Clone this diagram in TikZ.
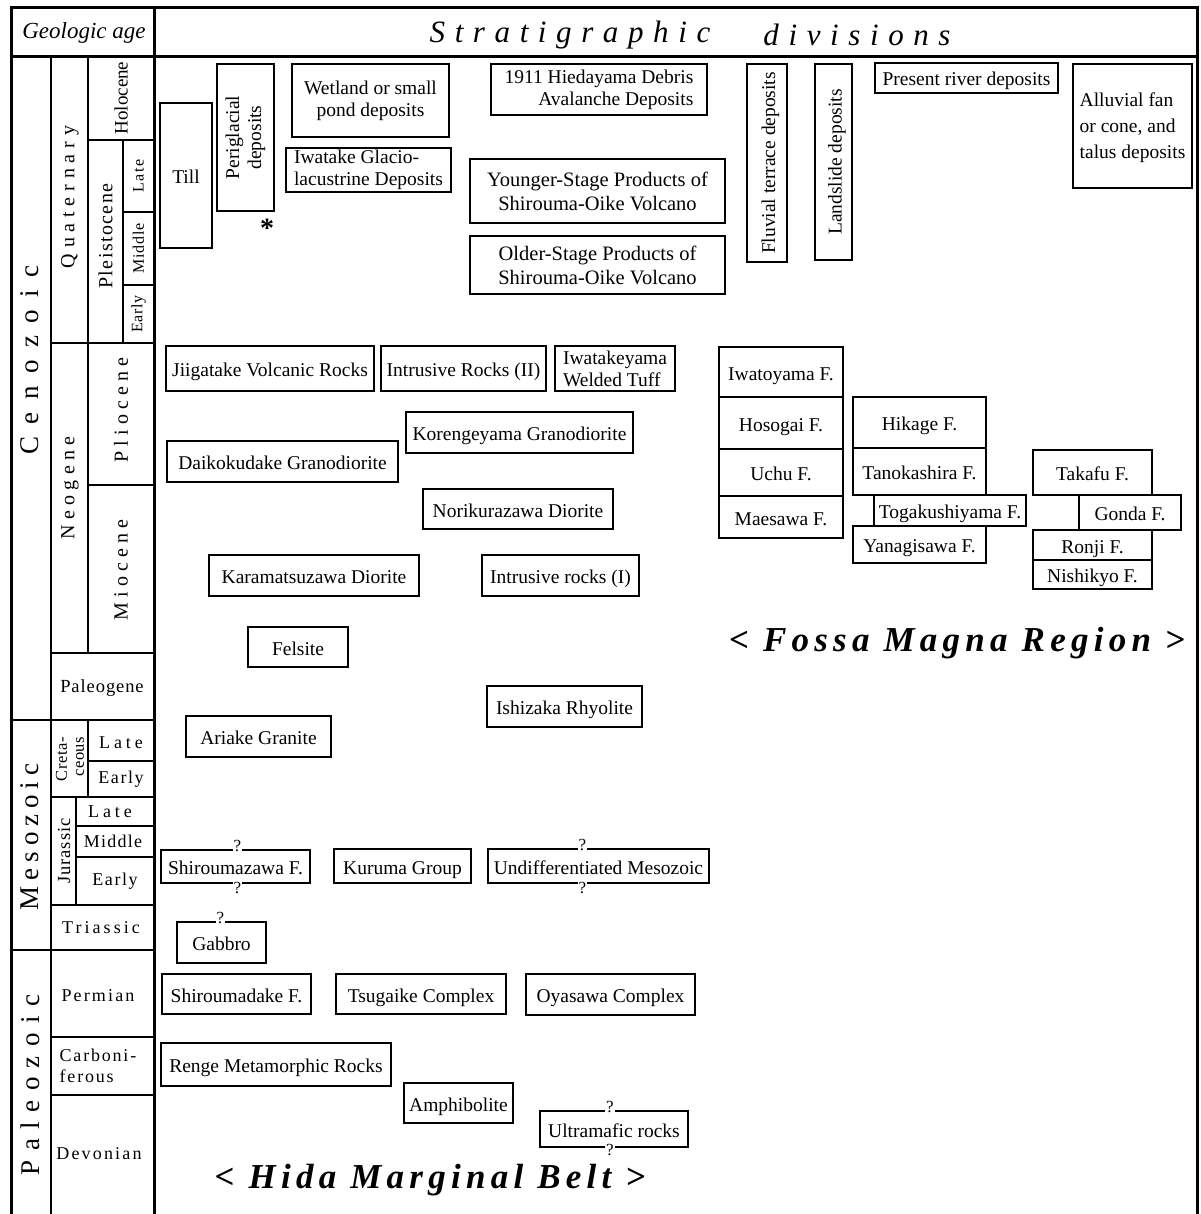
\documentclass[tikz,border=0pt]{standalone}
\usepackage{fontspec}
\setmainfont{Liberation Serif}
% box given by its corners: [options]{name}{x1}{y1}{x2}{y2}{text}
\newcommand\stratbox[7][]{%
  \pgfmathsetmacro\sbcx{(#3+#5)/2}%
  \pgfmathsetmacro\sbcy{(#4+#6)/2}%
  \pgfmathsetmacro\sbw{#5-#3}%
  \pgfmathsetmacro\sbh{#6-#4}%
  \node[unit, one, minimum width=\sbw pt, minimum height=\sbh pt, #1] (#2) at (\sbcx,\sbcy) {#7};}
% same, with the text turned to read upwards
\newcommand\stratvbox[7][]{%
  \pgfmathsetmacro\sbcx{(#3+#5)/2}%
  \pgfmathsetmacro\sbcy{(#4+#6)/2}%
  \pgfmathsetmacro\sbw{#5-#3}%
  \pgfmathsetmacro\sbh{#6-#4}%
  \node[unit, one, rotate=90, minimum width=\sbh pt, minimum height=\sbw pt, #1] (#2) at (\sbcx,\sbcy) {#7};}
\begin{document}
\begin{tikzpicture}[x=1pt,y=-1pt,
  frame/.style={line width=3pt},
  rule/.style={line width=2pt},
  unit/.style={draw, line width=1.8pt, inner sep=2pt, align=center,
    font=\fontsize{19.5}{22}\selectfont},
  one/.style={text height=16pt, text depth=0pt},
  multi/.style={text height=, text depth=},
  qmark/.style={fill=white, inner sep=0.8pt, font=\fontsize{17}{17}\selectfont},
  era/.style={rotate=90, inner sep=0pt},
  lab/.style={inner sep=0pt, align=center},
  title/.style={inner sep=0pt, font=\fontsize{35}{38}\selectfont\bfseries\itshape\addfontfeature{LetterSpace=15}}]
\useasboundingbox (0,0) rectangle (1200,1214);

% ---------- table frame ----------
\draw[frame] (11,1214) -- (11,8) -- (1197,8) -- (1197,1214);
\draw[frame] (11,57) -- (1197,57);
\draw[frame] (154,8) -- (154,1214);

% ---------- geologic age column ----------
\draw[rule] (51,57) -- (51,1214);
\draw[rule] (11,720) -- (154,720);
\draw[rule] (11,950) -- (154,950);
% Cenozoic
\draw[rule] (88,57) -- (88,653);
\draw[rule] (88,140) -- (154,140);
\draw[rule] (123,140) -- (123,343);
\draw[rule] (123,212) -- (154,212);
\draw[rule] (123,285) -- (154,285);
\draw[rule] (51,343) -- (154,343);
\draw[rule] (88,485) -- (154,485);
\draw[rule] (51,653) -- (154,653);
% Mesozoic
\draw[rule] (88,720) -- (88,797);
\draw[rule] (88,761) -- (154,761);
\draw[rule] (51,797) -- (154,797);
\draw[rule] (76,797) -- (76,905);
\draw[rule] (76,826) -- (154,826);
\draw[rule] (76,857) -- (154,857);
\draw[rule] (51,905) -- (154,905);
% Paleozoic
\draw[rule] (51,1037) -- (154,1037);
\draw[rule] (51,1095) -- (154,1095);

% ---------- header ----------
\node[inner sep=0pt, font=\fontsize{23}{25}\selectfont\itshape] (hage) at (84,33) {Geologic age};
\node[inner sep=0pt, font=\fontsize{31}{33}\selectfont\itshape\addfontfeature{LetterSpace=31}] (hstrat) at (570,35) {Stratigraphic};
\node[inner sep=0pt, font=\fontsize{31}{33}\selectfont\itshape\addfontfeature{LetterSpace=31}] (hdiv) at (857,35) {divisions};

% ---------- age labels ----------
\node[era, font=\fontsize{27}{29}\selectfont\addfontfeature{LetterSpace=46}] (ceno) at (30,360) {Cenozoic};
\node[era, font=\fontsize{27}{29}\selectfont\addfontfeature{LetterSpace=22}] (meso) at (30,837) {Mesozoic};
\node[era, font=\fontsize{27}{29}\selectfont\addfontfeature{LetterSpace=35}] (paleo) at (30,1085) {Paleozoic};

\node[era, font=\fontsize{20}{22}\selectfont\addfontfeature{LetterSpace=29}] (quat) at (70,197) {Quaternary};
\node[era, font=\fontsize{20}{22}\selectfont\addfontfeature{LetterSpace=27}] (neog) at (70,488) {Neogene};
\node[era, font=\fontsize{19}{21}\selectfont] (holo) at (121,98) {Holocene};
\node[era, font=\fontsize{20}{22}\selectfont\addfontfeature{LetterSpace=7}] (pleis) at (105.5,236) {Pleistocene};
\node[era, font=\fontsize{16}{18}\selectfont\addfontfeature{LetterSpace=10}] (qlate) at (138.5,176) {Late};
\node[era, font=\fontsize{16}{18}\selectfont\addfontfeature{LetterSpace=5}] (qmid) at (138.5,248.5) {Middle};
\node[era, font=\fontsize{16}{18}\selectfont\addfontfeature{LetterSpace=5}] (qearly) at (138.5,314) {Early};
\node[era, font=\fontsize{20}{22}\selectfont\addfontfeature{LetterSpace=26}] (plio) at (121,410) {Pliocene};
\node[era, font=\fontsize{20}{22}\selectfont\addfontfeature{LetterSpace=26}] (mio) at (121,570) {Miocene};
\node[lab, font=\fontsize{18.5}{20}\selectfont\addfontfeature{LetterSpace=5}] (paleog) at (102,688) {Paleogene};

\node[era, align=right, font=\fontsize{16.5}{17}\selectfont\addfontfeature{LetterSpace=4}] (cret) at (70,759) {Creta-\\ceous};
\node[lab, font=\fontsize{18}{20}\selectfont\addfontfeature{LetterSpace=22}] (klate) at (121,743) {Late};
\node[lab, font=\fontsize{18}{20}\selectfont\addfontfeature{LetterSpace=9}] (kearly) at (121,779) {Early};
\node[era, font=\fontsize{18.5}{20}\selectfont\addfontfeature{LetterSpace=5}] (jur) at (64,851) {Jurassic};
\node[lab, font=\fontsize{18}{20}\selectfont\addfontfeature{LetterSpace=22}] (jlate) at (110,811.5) {Late};
\node[lab, font=\fontsize{18}{20}\selectfont\addfontfeature{LetterSpace=7}] (jmid) at (113,841.5) {Middle};
\node[lab, font=\fontsize{18}{20}\selectfont\addfontfeature{LetterSpace=9}] (jearly) at (115,881) {Early};
\node[lab, font=\fontsize{18}{20}\selectfont\addfontfeature{LetterSpace=17}] (trias) at (101,927.5) {Triassic};
\node[lab, font=\fontsize{18}{20}\selectfont\addfontfeature{LetterSpace=12}] (perm) at (98,996) {Permian};
\node[lab, align=left, font=\fontsize{18}{21}\selectfont\addfontfeature{LetterSpace=10}] (carb) at (98,1066) {Carboni-\\ferous};
\node[lab, font=\fontsize{18}{20}\selectfont\addfontfeature{LetterSpace=12}] (devon) at (99,1154) {Devonian};

% ---------- Quaternary units ----------
\stratbox{till}{160}{103}{212}{248}{Till}
\stratvbox[multi]{perig}{217}{64}{274}{211}{Periglacial\\deposits}
\node[inner sep=0pt, anchor=base, font=\fontsize{28}{28}\selectfont\bfseries] (ast) at (267,238) {*};
\stratbox[multi]{wet}{292}{64}{449}{137}{Wetland or small\\pond deposits}
\stratbox[multi, align=left]{iwgl}{286}{149}{451}{191}{Iwatake Glacio-\\lacustrine Deposits}
\stratbox[multi, align=right]{hieda}{491}{64}{707}{115}{1911 Hiedayama Debris\\Avalanche Deposits}
\stratbox[multi, font=\fontsize{20.5}{24}\selectfont]{young}{470}{159}{725}{223}{Younger-Stage Products of\\Shirouma-Oike Volcano}
\stratbox[multi, font=\fontsize{20.5}{24}\selectfont]{old}{470}{236}{725}{294}{Older-Stage Products of\\Shirouma-Oike Volcano}
\stratvbox{fluv}{747}{64}{787}{262}{Fluvial terrace deposits}
\stratvbox{land}{815}{64}{852}{260}{Landslide deposits}
\stratbox{river}{875}{63}{1058}{93}{Present river deposits}
\stratbox[multi, align=left, font=\fontsize{19.5}{26}\selectfont, text depth=0pt]{fan}{1073}{64}{1192}{188}{Alluvial fan\\or cone, and\\talus deposits}

% ---------- Hida Marginal Belt units ----------
\stratbox{jiig}{166}{346}{374}{391}{Jiigatake Volcanic Rocks}
\stratbox{intII}{381}{346}{546}{391}{Intrusive Rocks (II)}
\stratbox[multi, align=left]{iwtk}{555}{346}{675}{391}{Iwatakeyama\\Welded Tuff}
\stratbox{koren}{406}{412}{633}{453}{Korengeyama Granodiorite}
\stratbox{daiko}{167}{441}{398}{482}{Daikokudake Granodiorite}
\stratbox{nori}{423}{489}{613}{529}{Norikurazawa Diorite}
\stratbox{kara}{209}{555}{419}{596}{Karamatsuzawa Diorite}
\stratbox{intI}{482}{555}{639}{596}{Intrusive rocks (I)}
\stratbox{fels}{248}{627}{348}{667}{Felsite}
\stratbox{ishi}{487}{686}{642}{727}{Ishizaka Rhyolite}
\stratbox{ariake}{186}{716}{331}{757}{Ariake Granite}
\stratbox{shzw}{161}{850}{310}{883}{Shiroumazawa F.}
\stratbox{kuruma}{334}{849}{471}{883}{Kuruma Group}
\stratbox{undiff}{488}{849}{709}{883}{Undifferentiated Mesozoic}
\stratbox{gabbro}{177}{922}{266}{963}{Gabbro}
\stratbox{shdk}{162}{974}{311}{1014}{Shiroumadake F.}
\stratbox{tsug}{336}{974}{506}{1014}{Tsugaike Complex}
\stratbox{oyas}{526}{974}{695}{1015}{Oyasawa Complex}
\stratbox{renge}{161}{1043}{391}{1086}{Renge Metamorphic Rocks}
\stratbox{amph}{404}{1083}{513}{1123}{Amphibolite}
\stratbox{ultra}{540}{1111}{688}{1147}{Ultramafic rocks}

% uncertain boundaries
\node[qmark, anchor=south, yshift=-3.5pt] (q1) at ([xshift=2pt]shzw.north) {?};
\node[qmark, anchor=north, yshift=3pt] (q2) at ([xshift=2pt]shzw.south) {?};
\node[qmark, anchor=south, yshift=-3.5pt] (q3) at ([xshift=-16pt]undiff.north) {?};
\node[qmark, anchor=north, yshift=3pt] (q4) at ([xshift=-16pt]undiff.south) {?};
\node[qmark, anchor=south, yshift=-3.5pt] (q5) at ([xshift=-1pt]gabbro.north) {?};
\node[qmark, anchor=south, yshift=-3.5pt] (q6) at ([xshift=-4pt]ultra.north) {?};
\node[qmark, anchor=north, yshift=4.5pt] (q7) at ([xshift=-4pt]ultra.south) {?};

% ---------- Fossa Magna Region units ----------
\stratbox{iwato}{719}{347}{843}{397}{Iwatoyama F.}
\stratbox{hoso}{719}{397}{843}{449}{Hosogai F.}
\stratbox{uchu}{719}{449}{843}{496}{Uchu F.}
\stratbox{maes}{719}{496}{843}{538}{Maesawa F.}
\stratbox{hika}{853}{397}{986}{448}{Hikage F.}
\stratbox{tano}{853}{448}{986}{495}{Tanokashira F.}
\stratbox{toga}{874}{495}{1026}{526}{Togakushiyama F.}
\stratbox{yana}{853}{526}{986}{563}{Yanagisawa F.}
\stratbox{taka}{1033}{450}{1152}{495}{Takafu F.}
\stratbox{gonda}{1079}{495}{1181}{530}{Gonda F.}
\stratbox{ronji}{1033}{530}{1152}{560}{Ronji F.}
\stratbox{nishi}{1033}{560}{1152}{589}{Nishikyo F.}

% ---------- region titles ----------
\node[title, anchor=base] (fossa) at (957,651) {< Fossa Magna Region >};
\node[title, anchor=base] (hida) at (430,1188) {< Hida Marginal Belt >};
\end{tikzpicture}
\end{document}
